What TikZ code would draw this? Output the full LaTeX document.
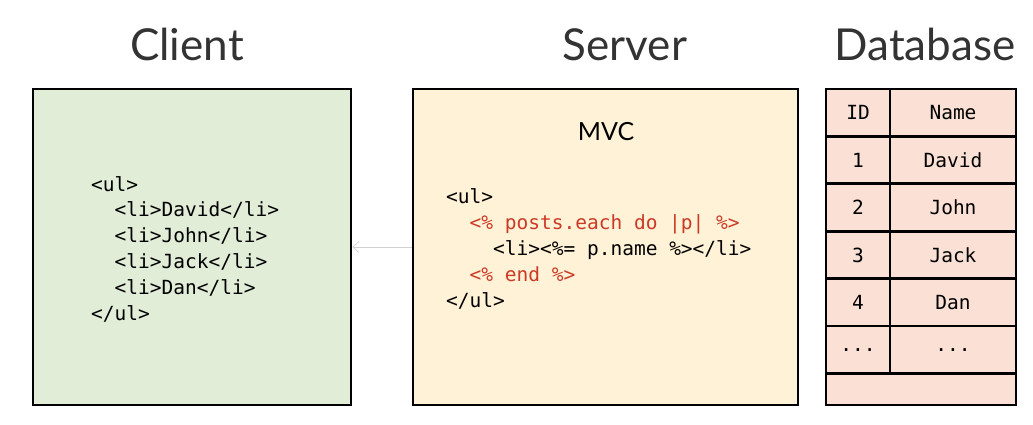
\documentclass[tikz,border=0pt]{standalone}
\usepackage{fontspec}
\setmainfont{Lato}
\setmonofont{DejaVu Sans Mono}
\usetikzlibrary{arrows.meta}

\definecolor{clientgreen}{RGB}{226,237,216}
\definecolor{serveryellow}{RGB}{255,242,214}
\definecolor{dbpink}{RGB}{251,225,213}
\definecolor{erbred}{RGB}{204,58,38}
\definecolor{titlegray}{RGB}{51,51,51}
\newcommand{\ind}[1]{\hphantom{#1}}
\newcommand{\monodots}{.{}.{}.}

\begin{document}
\begin{tikzpicture}[x=1pt, y=-1pt,
  box/.style={draw, line width=2.8pt, inner sep=0pt},
  title/.style={anchor=base, inner sep=0pt, text=titlegray, font=\fontsize{44}{44}\selectfont},
  code/.style={anchor=base west, inner sep=0pt, align=left, font=\fontsize{19.5}{25.8}\selectfont\ttfamily},
  cell/.style={draw, line width=2.8pt, fill=dbpink, inner sep=0pt, font=\fontsize{19.5}{20}\selectfont\ttfamily},
  reply/.style={draw=black!18, line width=0.7pt, -{Straight Barb[length=6pt, width=11pt]}}]
\useasboundingbox (0,0) rectangle (1033,424);

% titles
\node[title] (clienttitle) at (187,60) {Client};
\node[title] (servertitle) at (625,60) {Server};
\node[title] (dbtitle) at (925,60) {Database};

% client and server boxes
\node[box, fill=clientgreen, minimum width=318pt, minimum height=316pt] (client) at (192,247) {};
\node[box, fill=serveryellow, minimum width=385pt, minimum height=316pt] (server) at (605.5,247) {};

% base = last line
\node[code] (clientcode) at (91,320) {<ul>\\
\ind{xx}<li>David</li>\\
\ind{xx}<li>John</li>\\
\ind{xx}<li>Jack</li>\\
\ind{xx}<li>Dan</li>\\
</ul>};

\node[anchor=base, inner sep=0pt, font=\fontsize{25}{25}\selectfont] (mvc) at (606,140) {MVC};
\node[code] (servercode) at (446,307) {<ul>\\
\ind{xx}\textcolor{erbred}{<\% posts.each do |p| \%>}\\
\ind{xxxx}<li><\%= p.name \%></li>\\
\ind{xx}\textcolor{erbred}{<\% end \%>}\\
</ul>};

% response
\draw[reply] (server.west) -- (client.east);

% database table
\foreach \id/\name [count=\i from 0] in {ID/Name, 1/David, 2/John, 3/Jack, 4/Dan, {\monodots}/{\monodots}} {
  \node[cell, minimum width=64pt, minimum height=47.4pt] (id\i) at (858,112.7+47.4*\i) {\id};
  \node[cell, minimum width=126pt, minimum height=47.4pt] (name\i) at (953,112.7+47.4*\i) {\name};
}
\node[cell, minimum width=190pt, minimum height=31.6pt] (blank) at (921,389.2) {};
\end{tikzpicture}
\end{document}
